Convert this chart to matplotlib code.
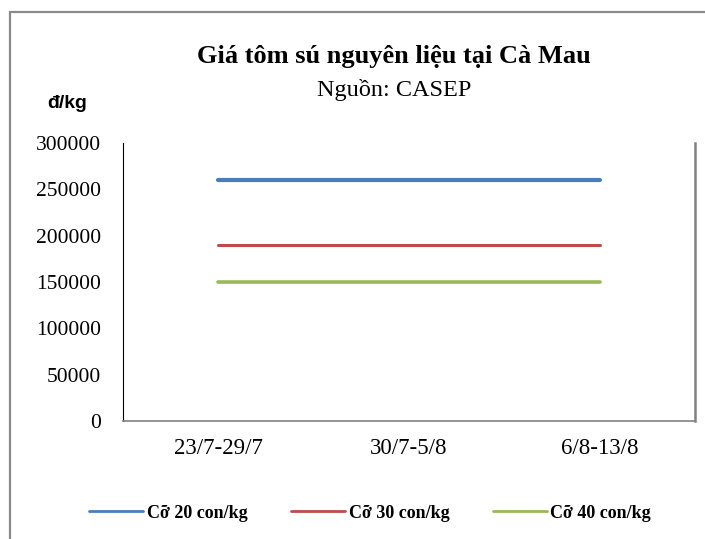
import matplotlib.pyplot as plt
from matplotlib.patches import Rectangle

# data
weeks = ["23/7-29/7", "30/7-5/8", "6/8-13/8"]
size20 = [260000, 260000, 260000]
size30 = [190000, 190000, 190000]
size40 = [150000, 150000, 150000]
series_names = ["Cỡ 20 con/kg", "Cỡ 30 con/kg", "Cỡ 40 con/kg"]
yticks = [0, 50000, 100000, 150000, 200000, 250000, 300000]

W, H = 705, 539
fig = plt.figure(figsize=(W / 100, H / 100), dpi=100)
serif = "Liberation Serif"

# outer chart border (cut off at right/bottom as in the screenshot)
fig.patches.append(Rectangle((10 / W, -0.1), 1.2, 1 - 12 / H + 0.1,
                             transform=fig.transFigure, fill=False,
                             edgecolor="#8a8a8a", linewidth=1.6))

ax = fig.add_axes([123 / W, 1 - 421 / H, (695 - 123) / W, (421 - 143) / H])

x = range(len(weeks))
ax.plot(x, size20, color="#4a7ebb", lw=3, solid_capstyle="round", label=series_names[0])
ax.plot(x, size30, color="#be4b48", lw=2.2, solid_capstyle="round", label=series_names[1])
ax.plot(x, size40, color="#98b954", lw=2.6, solid_capstyle="round", label=series_names[2])

ax.set_xlim(-0.5, 2.5)
ax.set_ylim(0, 300000)
ax.set_yticks(yticks)
ax.set_yticklabels([str(v) for v in yticks], family=serif, fontsize=15.5)
ax.set_xticks(list(x))
ax.set_xticklabels(weeks, family=serif, fontsize=16.5)
ax.tick_params(length=0)
ax.tick_params(axis="y", pad=16)
ax.tick_params(axis="x", pad=12)

ax.spines["top"].set_visible(False)
ax.spines["left"].set_color("black")
ax.spines["left"].set_linewidth(0.8)
ax.spines["right"].set_color("#808080")
ax.spines["right"].set_linewidth(1.8)
ax.spines["bottom"].set_color("#808080")
ax.spines["bottom"].set_linewidth(1.2)

fig.text(394 / W, 1 - 57 / H, "Giá tôm sú nguyên liệu tại Cà Mau",
         family=serif, fontweight="bold", fontsize=19, ha="center", va="center")
fig.text(394 / W, 1 - 90 / H, "Nguồn: CASEP",
         family=serif, fontsize=17.5, ha="center", va="center")
fig.text(67 / W, 1 - 104 / H, "đ/kg", family="Liberation Sans",
         fontweight="bold", fontsize=14, ha="center", va="center")

leg = fig.legend(loc="center", bbox_to_anchor=(370 / W, 1 - 513 / H), ncol=3,
                 frameon=False, handlelength=3, handletextpad=0.2,
                 columnspacing=2.4,
                 prop={"family": serif, "weight": "bold", "size": 13})
for line in leg.get_lines():
    line.set_linewidth(2)

fig.savefig("out.png", dpi=100)
